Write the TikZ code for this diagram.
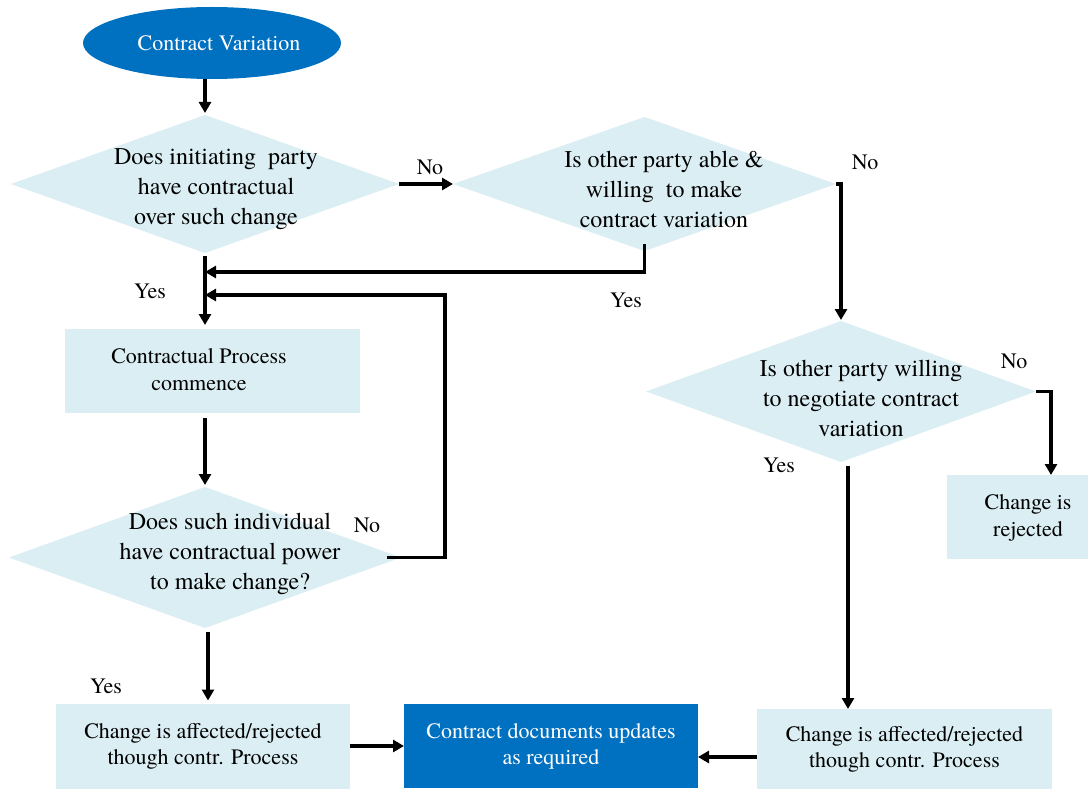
\documentclass[tikz,border=0pt]{standalone}
\usepackage{fontspec}
\setmainfont{texgyretermes}[Extension=.otf, UprightFont=*-regular, BoldFont=*-bold, ItalicFont=*-italic, BoldItalicFont=*-bolditalic]
\usetikzlibrary{shapes.geometric,arrows.meta,calc}
\definecolor{lightbox}{HTML}{DAEEF3}
\definecolor{darkbox}{HTML}{0070C0}
\begin{document}
\begin{tikzpicture}[x=1pt,y=-1pt,
  base/.style={inner sep=0pt, outer sep=0pt},
  dia/.style={base, diamond, fill=lightbox},
  lbox/.style={base, rectangle, fill=lightbox},
  dbox/.style={base, rectangle, fill=darkbox, text=white},
  dtext/.style={align=center, font=\fontsize{24}{30}\selectfont},
  btext/.style={align=center, font=\fontsize{22}{27}\selectfont},
  lab/.style={font=\fontsize{22}{26}\selectfont},
  arr/.style={line width=3.2pt, -{Triangle[length=11pt,width=12pt]}},
  ln/.style={line width=3.2pt}]
\useasboundingbox (0,0) rectangle (1088,789);

% shapes
\node[base, ellipse, fill=darkbox, text=white, minimum width=258pt, minimum height=72pt,
      font=\fontsize{22}{26}\selectfont] (start) at (212,43) {\hspace*{14pt}Contract Variation};
\node[dia, minimum width=388pt, minimum height=138pt] (d1) at (205,184) {};
\node[dtext] (d1t) at (216,189) {Does initiating\ \ party\\have contractual\\over such change};
\node[dia, minimum width=383pt, minimum height=134pt] (d2) at (644.5,184) {};
\node[dtext] (d2t) at (664,189) {Is other party able \&\\willing\ \ to make\\contract variation};
\node[dia, minimum width=390pt, minimum height=141pt] (d3) at (841,391.5) {};
\node[dtext] (d3t) at (861,398) {Is other party willing\\to negotiate contract\\variation};
\node[dia, minimum width=392pt, minimum height=141pt] (d4) at (205,557.5) {};
\node[dtext] (d4t) at (230,554) {Does such individual\\have contractual power\\to make change?};

\node[lbox, minimum width=295pt, minimum height=84pt] (r1) at (212.5,371) {};
\node[btext] (r1t) at (199,370) {Contractual Process\\commence};
\node[lbox, minimum width=141pt, minimum height=84pt] (rej) at (1017.5,517) {};
\node[btext] (rejt) at (1028,518) {Change is\\rejected};
\node[lbox, btext, minimum width=294pt, minimum height=85pt, font=\fontsize{22}{26}\selectfont] (r2) at (203,746) {Change is affected/rejected\\though contr. Process};
\node[dbox, btext, minimum width=294pt, minimum height=84pt, font=\fontsize{22}{26}\selectfont] (r3) at (551,746) {Contract documents updates\\as required};
\node[lbox, btext, minimum width=295pt, minimum height=80pt, font=\fontsize{22}{26}\selectfont] (r4) at (904.5,749) {Change is affected/rejected\\though contr. Process};

% labels
\node[lab] (no1) at (430,167) {No};
\node[lab] (no2) at (865,162) {No};
\node[lab] (yes1) at (150,291) {Yes};
\node[lab] (yes2) at (626,300) {Yes};
\node[lab] (no3) at (1014,361) {No};
\node[lab] (yes3) at (779,465) {Yes};
\node[lab] (no4) at (367,525) {No};
\node[lab] (yes4) at (106,686) {Yes};

% junctions
\coordinate (j1) at (205,272);
\coordinate (j2) at (205,295);

% connectors
\draw[arr, shorten >=2pt] (d1.north |- start.south) -- (d1.north);
\draw[arr] (d1.east) -- (d2.west);
\draw[arr, shorten >=1pt] (d2.east) -| (d3.north);
\draw[arr] ([yshift=7pt]d2.south) |- (j1);
\draw[arr, shorten <=3pt, shorten >=4pt] (d1.south) -- (d1.south |- r1.north);
\draw[arr, shorten <=5pt, shorten >=2pt] (d4.north |- r1.south) -- (d4.north);
\draw[arr] ([xshift=-14pt]d4.east) -- ++(58,0) |- (j2);
\draw[arr, shorten <=4pt, shorten >=3pt] ([xshift=3pt]d4.south) -- ([xshift=3pt]d4.south |- r2.north);
\draw[arr] (r2.east) -- (r3.west);
\draw[arr] ([yshift=-8pt]r4.west) -- ([yshift=-8pt]r4.west -| r3.east);
\draw[arr, shorten <=4pt] ([xshift=7pt]d3.south) -- ([xshift=7pt]d3.south |- r4.north);
\draw[arr] (d3.east) -- ++(15,0) coordinate (t3) -- (t3 |- rej.north);
\end{tikzpicture}
\end{document}
